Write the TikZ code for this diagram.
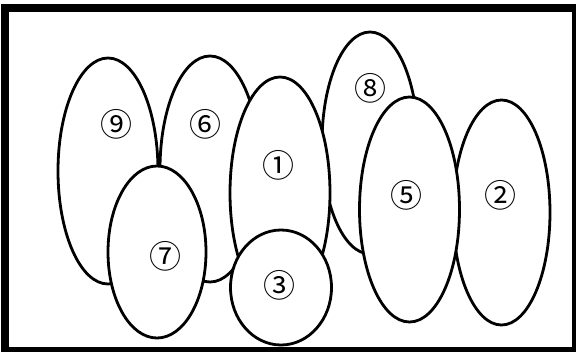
\documentclass[tikz,border=0pt]{standalone}
\usepackage{fontspec}
\newfontfamily\circfont{Noto Sans CJK JP}
\usetikzlibrary{shapes.geometric}
\tikzset{
  blob/.style={ellipse, draw, fill=white, line width=2.8pt, inner sep=0pt},
  num/.style={font=\circfont\fontsize{32}{32}\selectfont, inner sep=0pt}
}
\begin{document}
\begin{tikzpicture}[x=1pt,y=-1pt]
  \useasboundingbox (0,0) rectangle (576,351);

  %% frame
  \draw[line width=8.5pt] (4.75,8) rectangle (576.25,351.25);

  %% ellipses, back to front
  \node[blob, minimum width=100pt, minimum height=226pt] (e9) at (108,171) {};
  \node[blob, minimum width=100pt, minimum height=226pt] (e6) at (210,169) {};
  \node[blob, minimum width=96pt, minimum height=222pt] (e8) at (370,143) {};
  \node[blob, minimum width=100pt, minimum height=232pt] (e1) at (280,193) {};
  \node[blob, minimum width=97pt, minimum height=225pt] (e2) at (501.5,212.5) {};
  \node[blob, minimum width=100pt, minimum height=225pt] (e5) at (409.5,209.5) {};
  \node[blob, minimum width=98pt, minimum height=172pt] (e7) at (157,252) {};
  \node[blob, minimum width=101pt, minimum height=115pt] (e3) at (281,287.5) {};

  %% numbers
  \node[num] (n9) at (116,124) {⑨};
  \node[num] (n6) at (205,124) {⑥};
  \node[num] (n1) at (278,165) {①};
  \node[num] (n7) at (165,256) {⑦};
  \node[num] (n3) at (279,285) {③};
  \node[num] (n8) at (370,88) {⑧};
  \node[num] (n5) at (406,195) {⑤};
  \node[num] (n2) at (500,195) {②};

\end{tikzpicture}
\end{document}
